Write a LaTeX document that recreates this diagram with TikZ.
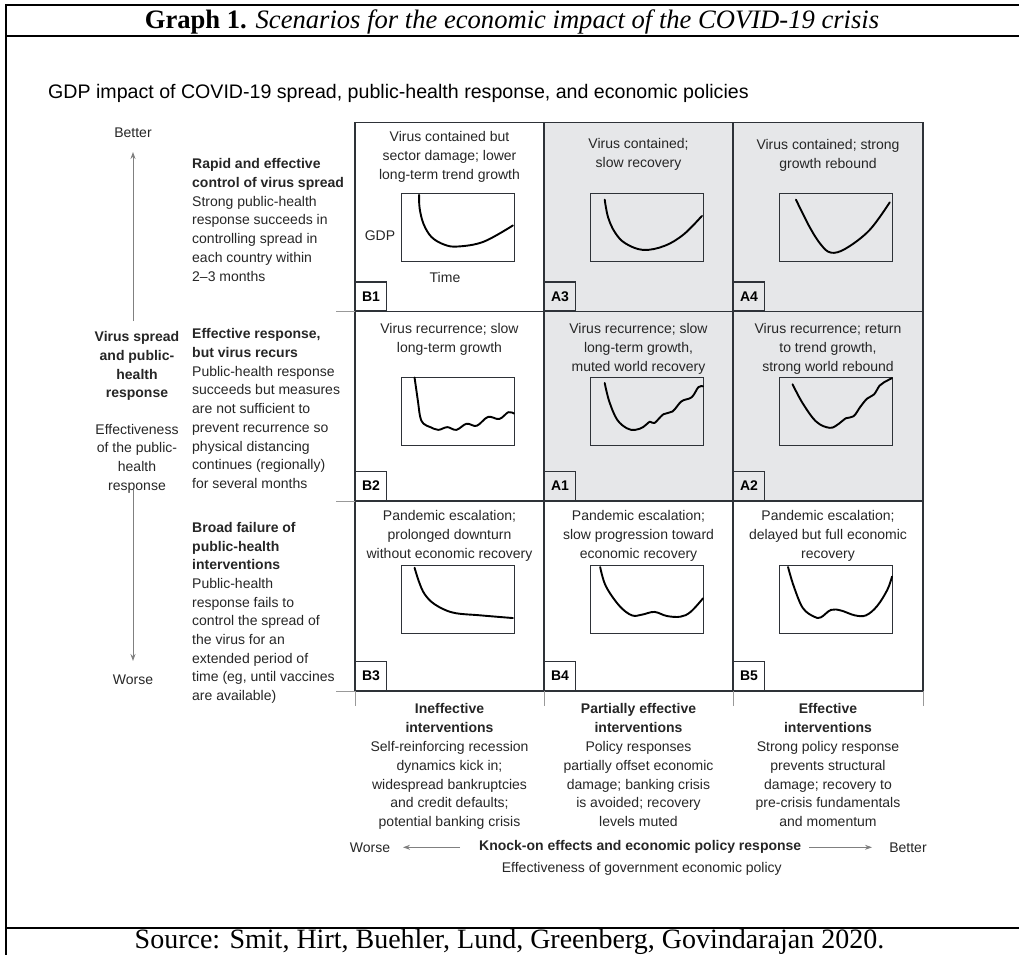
\documentclass[tikz,border=0pt]{standalone}
\usepackage{fontspec}
\setmainfont{Liberation Serif}
\newfontfamily\figsans{Liberation Sans}
\usetikzlibrary{arrows.meta}
\definecolor{cellgray}{HTML}{E6E7E9}
\definecolor{gridcol}{HTML}{2E3238}
\definecolor{txt}{HTML}{262626}
\definecolor{arrgray}{HTML}{808080}
\newcommand\mychart[3]{%
  \draw[chartbox] (#1,#2) rectangle ++(113,68);
  \begin{scope}[shift={(#1,#2)}, x=113pt, y=-68pt]
    \draw[curve] plot[smooth, tension=0.6] coordinates {#3};
  \end{scope}}
\begin{document}
\begin{tikzpicture}[x=1pt,y=-1pt,
  body/.style={font=\figsans\fontsize{14}{19}\selectfont, text=txt, inner sep=0pt, align=center},
  bodyb/.style={font=\figsans\fontsize{14}{18.8}\selectfont, text=txt, inner sep=0pt, align=center, anchor=north},
  leftcol/.style={font=\figsans\fontsize{14}{18.7}\selectfont, text=txt, inner sep=0pt, align=left, anchor=north west},
  lbl/.style={draw=gridcol, line width=1.1pt, font=\figsans\bfseries\fontsize{14}{16}\selectfont, minimum width=31pt, minimum height=29pt, inner sep=0pt, anchor=south west, text=black},
  chartbox/.style={draw=gridcol, line width=0.9pt},
  curve/.style={line width=1.9pt, black, line cap=round, line join=round},
  garrow/.style={draw=arrgray, line width=0.9pt, -{Stealth[length=7pt,width=5pt]}},
  ext/.style={draw=black!40, line width=0.9pt},
  frame/.style={line width=2pt, black},
]
\useasboundingbox (0,0) rectangle (1019,955);
% frame
\draw[frame] (1019,5) -- (6,5) -- (6,955);
\draw[frame] (6,36) -- (1019,36);
\draw[frame] (6,927.5) -- (1019,927.5);
\node[anchor=base, inner sep=0pt] (title) at (512,29) {\fontsize{26.6}{30}\selectfont\textbf{Graph 1.} \textit{Scenarios for the economic impact of the COVID-19 crisis}};
\node[anchor=base, inner sep=0pt] (source) at (509.5,948.5) {\fontsize{28}{30}\selectfont Source: Smit, Hirt, Buehler, Lund, Greenberg, Govindarajan 2020.};
\node[anchor=west, inner sep=0pt, font=\figsans\fontsize{19.6}{22}\selectfont, text=black] (subtitle) at (48,93) {GDP impact of COVID-19 spread, public-health response, and economic policies};
% grid
\fill[cellgray] (544,122.5) rectangle (923,501);
\draw[gridcol, line width=1.2pt] (355,122.5) rectangle (923,691);
\draw[gridcol, line width=1.2pt] (355,311.5) -- (923,311.5) (355,501) -- (923,501)
  (544,122.5) -- (544,691) (733,122.5) -- (733,691);
\draw[ext] (336,311.5) -- (355,311.5) (336,501) -- (355,501) (336,691) -- (355,691);
\draw[ext] (355,691) -- (355,706) (544,691) -- (544,706) (733,691) -- (733,706) (923,691) -- (923,706);
% cell labels
\node[lbl] (lB1) at (355,311.5) {B1};
\node[lbl] (lA3) at (544,311.5) {A3};
\node[lbl] (lA4) at (733,311.5) {A4};
\node[lbl] (lB2) at (355,501) {B2};
\node[lbl] (lA1) at (544,501) {A1};
\node[lbl] (lA2) at (733,501) {A2};
\node[lbl] (lB3) at (355,691) {B3};
\node[lbl] (lB4) at (544,691) {B4};
\node[lbl] (lB5) at (733,691) {B5};
% cell texts
\node[body] (tB1) at (449.5,157) {Virus contained but\\sector damage; lower\\long-term trend growth};
\node[body] (tA3) at (638.5,154) {Virus contained;\\slow recovery};
\node[body] (tA4) at (828,155.5) {Virus contained; strong\\growth rebound};
\node[body] (tB2) at (449.5,339) {Virus recurrence; slow\\long-term growth};
\node[body] (tA1) at (638.5,348.5) {Virus recurrence; slow\\long-term growth,\\muted world recovery};
\node[body] (tA2) at (828,348.5) {Virus recurrence; return\\to trend growth,\\strong world rebound};
\node[body] (tB3) at (449.5,535.5) {Pandemic escalation;\\prolonged downturn\\without economic recovery};
\node[body] (tB4) at (638.5,535.5) {Pandemic escalation;\\slow progression toward\\economic recovery};
\node[body] (tB5) at (828,535.5) {Pandemic escalation;\\delayed but full economic\\recovery};
\node[body] (gdp) at (380,236) {GDP};
\node[body] (time) at (445,277) {Time};
% charts
\mychart{401}{193.5}{(0.16,0.02) (0.165,0.22) (0.2,0.45) (0.27,0.64) (0.38,0.75) (0.5,0.78) (0.73,0.71) (0.99,0.47)}
\mychart{590}{193.5}{(0.13,0.09) (0.16,0.35) (0.22,0.57) (0.31,0.73) (0.47,0.83) (0.66,0.77) (0.83,0.6) (0.99,0.33)}
\mychart{779}{193.5}{(0.15,0.09) (0.27,0.49) (0.37,0.75) (0.46,0.87) (0.59,0.81) (0.8,0.54) (0.98,0.13)}
\mychart{401}{377.5}{(0.12,0.0) (0.15,0.35) (0.17,0.58) (0.2,0.68) (0.26,0.73) (0.33,0.77) (0.41,0.73) (0.49,0.77) (0.58,0.68) (0.67,0.71) (0.77,0.58) (0.87,0.61) (0.95,0.51) (1.0,0.53)}
\mychart{590}{377.5}{(0.13,0.08) (0.17,0.35) (0.24,0.62) (0.33,0.75) (0.4,0.77) (0.47,0.73) (0.53,0.65) (0.57,0.67) (0.65,0.54) (0.73,0.5) (0.81,0.35) (0.9,0.29) (0.96,0.14) (1.0,0.13)}
\mychart{779}{377.5}{(0.12,0.1) (0.21,0.38) (0.33,0.65) (0.45,0.74) (0.53,0.68) (0.59,0.6) (0.66,0.57) (0.72,0.43) (0.78,0.31) (0.84,0.25) (0.89,0.12) (0.93,0.07) (1.0,0.01)}
\mychart{401}{565}{(0.12,0.04) (0.16,0.25) (0.21,0.43) (0.3,0.58) (0.46,0.7) (0.7,0.74) (0.99,0.78)}
\mychart{590}{565}{(0.09,0.03) (0.14,0.31) (0.26,0.6) (0.37,0.74) (0.46,0.73) (0.57,0.69) (0.68,0.75) (0.8,0.76) (0.89,0.69) (1.0,0.49)}
\mychart{779}{565}{(0.08,0.03) (0.13,0.31) (0.21,0.63) (0.31,0.76) (0.37,0.77) (0.46,0.66) (0.55,0.67) (0.67,0.74) (0.77,0.74) (0.87,0.6) (0.96,0.36) (1.0,0.17)}
% left column
\node[leftcol] (r1) at (192,158.5) {\textbf{Rapid and effective}\\\textbf{control of virus spread}\\Strong public-health\\response succeeds in\\controlling spread in\\each country within\\2–3 months};
\node[leftcol] (r2) at (192,328.5) {\textbf{Effective response,}\\\textbf{but virus recurs}\\Public-health response\\succeeds but measures\\are not sufficient to\\prevent recurrence so\\physical distancing\\continues (regionally)\\for several months};
\node[leftcol] (r3) at (192,522) {\textbf{Broad failure of}\\\textbf{public-health}\\\textbf{interventions}\\Public-health\\response fails to\\control the spread of\\the virus for an\\extended period of\\time (eg, until vaccines\\are available)};
\node[body, font=\figsans\bfseries\fontsize{14}{18.9}\selectfont] (vsp) at (137,366) {Virus spread\\and public-\\health\\response};
\node[body, font=\figsans\fontsize{14}{18.7}\selectfont] (eff) at (137,458.5) {Effectiveness\\of the public-\\health\\response};
\node[body] (better) at (133,132.5) {Better};
\node[body] (worse) at (133,680) {Worse};
\coordinate (upS) at (133,321);
\coordinate (upE) at (133,152);
\coordinate (dnS) at (133,490);
\coordinate (dnE) at (133,661);
\draw[garrow] (upS) -- (upE);
\draw[garrow] (dnS) -- (dnE);
% bottom column texts
\node[bodyb] (c1) at (449.5,703.5) {\textbf{Ineffective}\\\textbf{interventions}\\Self-reinforcing recession\\dynamics kick in;\\widespread bankruptcies\\and credit defaults;\\potential banking crisis};
\node[bodyb] (c2) at (638.5,703.5) {\textbf{Partially effective}\\\textbf{interventions}\\Policy responses\\partially offset economic\\damage; banking crisis\\is avoided; recovery\\levels muted};
\node[bodyb] (c3) at (828,703.5) {\textbf{Effective}\\\textbf{interventions}\\Strong policy response\\prevents structural\\damage; recovery to\\pre-crisis fundamentals\\and momentum};
% bottom axis
\node[body] (worse2) at (370,847.3) {Worse};
\node[body, font=\figsans\bfseries\fontsize{14}{18}\selectfont] (knock) at (640.2,847.3) {Knock-on effects and economic policy response};
\node[body] (better2) at (908,847.3) {Better};
\node[body] (effgov) at (641.8,869) {Effectiveness of government economic policy};
\coordinate (lS) at (460,847.3);
\coordinate (lE) at (403,847.3);
\coordinate (rS) at (809,847.3);
\coordinate (rE) at (872,847.3);
\draw[garrow] (lS) -- (lE);
\draw[garrow] (rS) -- (rE);
\end{tikzpicture}
\end{document}
